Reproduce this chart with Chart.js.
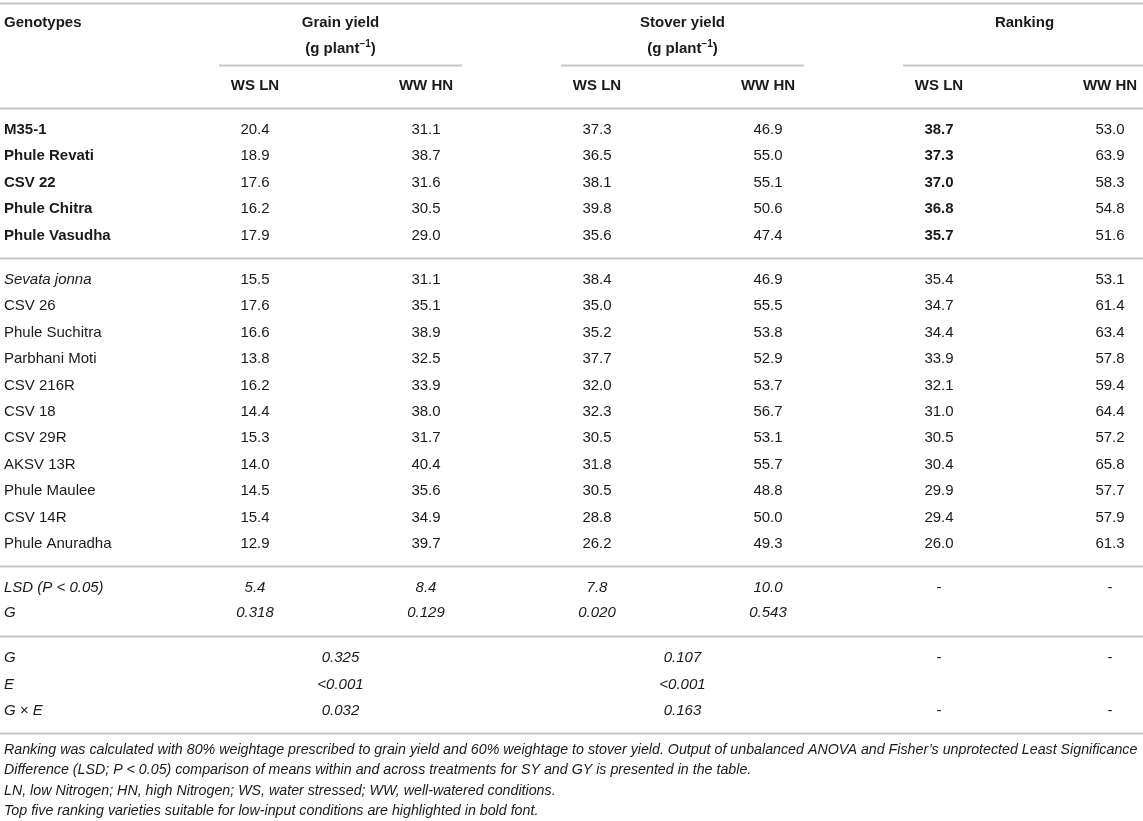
<!DOCTYPE html>
<html>
<head>
<meta charset="utf-8">
<script src="https://cdn.jsdelivr.net/npm/chart.js@4.4.1/dist/chart.umd.min.js"></script>
<style>
	html, body { margin: 0; padding: 0; background: #fff; }
	#wrap { width: 1143px; height: 821px; }
</style>
</head>
<body>
<div id="wrap"><canvas id="myChart"></canvas></div>
<script>
	const genotypes = [
		'M35-1', 'Phule Revati', 'CSV 22', 'Phule Chitra', 'Phule Vasudha',
		'Sevata jonna', 'CSV 26', 'Phule Suchitra', 'Parbhani Moti', 'CSV 216R',
		'CSV 18', 'CSV 29R', 'AKSV 13R', 'Phule Maulee', 'CSV 14R', 'Phule Anuradha'
	];
	const topFive = 5;
	const italicNames = ['Sevata jonna'];

	const grainWSLN = [20.4, 18.9, 17.6, 16.2, 17.9, 15.5, 17.6, 16.6, 13.8, 16.2, 14.4, 15.3, 14.0, 14.5, 15.4, 12.9];
	const grainWWHN = [31.1, 38.7, 31.6, 30.5, 29.0, 31.1, 35.1, 38.9, 32.5, 33.9, 38.0, 31.7, 40.4, 35.6, 34.9, 39.7];
	const stoverWSLN = [37.3, 36.5, 38.1, 39.8, 35.6, 38.4, 35.0, 35.2, 37.7, 32.0, 32.3, 30.5, 31.8, 30.5, 28.8, 26.2];
	const stoverWWHN = [46.9, 55.0, 55.1, 50.6, 47.4, 46.9, 55.5, 53.8, 52.9, 53.7, 56.7, 53.1, 55.7, 48.8, 50.0, 49.3];
	const rankWSLN = [38.7, 37.3, 37.0, 36.8, 35.7, 35.4, 34.7, 34.4, 33.9, 32.1, 31.0, 30.5, 30.4, 29.9, 29.4, 26.0];
	const rankWWHN = [53.0, 63.9, 58.3, 54.8, 51.6, 53.1, 61.4, 63.4, 57.8, 59.4, 64.4, 57.2, 65.8, 57.7, 57.9, 61.3];

	const lsdLabel = 'LSD (P < 0.05)';
	const lsdValues = ['5.4', '8.4', '7.8', '10.0', '-', '-'];
	const gLabel = 'G';
	const gValues = ['0.318', '0.129', '0.020', '0.543', '', ''];

	const anovaLabels = ['G', 'E', 'G \u00d7 E'];
	const anovaGrain = ['0.325', '<0.001', '0.032'];
	const anovaStover = ['0.107', '<0.001', '0.163'];
	const anovaRankWS = ['-', '', '-'];
	const anovaRankWW = ['-', '', '-'];

	const firstHeader = 'Genotypes';
	const groupLabels = ['Grain yield', 'Stover yield', 'Ranking'];
	const groupUnits = [true, true, false];
	const treatments = ['WS LN', 'WW HN'];

	const footnotes = [
		'Ranking was calculated with 80% weightage prescribed to grain yield and 60% weightage to stover yield. Output of unbalanced ANOVA and Fisher\u2019s unprotected Least Significance',
		'Difference (LSD; P < 0.05) comparison of means within and across treatments for SY and GY is presented in the table.',
		'LN, low Nitrogen; HN, high Nitrogen; WS, water stressed; WW, well-watered conditions.',
		'Top five ranking varieties suitable for low-input conditions are highlighted in bold font.'
	];

	const columns = [grainWSLN, grainWWHN, stoverWSLN, stoverWWHN, rankWSLN, rankWWHN];

	// layout in scale units (x: one unit per value column, y: one unit per row)
	const nameCol = -0.468;
	const sectionGap = 0.68;
	const rowY = [];
	let cursor = 4.92;
	genotypes.forEach(function(g, i){
		if(i === topFive) cursor += sectionGap;
		rowY.push(cursor);
		cursor += 1;
	});
	const lastRow = rowY[rowY.length - 1];
	const lsdY = lastRow + 1 + sectionGap;
	const gY = lsdY + 0.95;
	const anovaY = [gY + 1 + 0.7, gY + 2.7, gY + 3.7];
	const footY = anovaY[2] + 1.48;

	const FONT = '"Liberation Sans", Arial, Helvetica, sans-serif';
	function font(size, bold, italic){
		return (italic ? 'italic ' : '') + (bold ? 'bold ' : '') + size + 'px ' + FONT;
	}

	const tableText = {
		id: 'tableText',
		afterDraw: (chart) => {
			const {ctx, scales: {x, y}} = chart;
			const size = 15;

			function text(str, xv, yv, opts){
				opts = opts || {};
				ctx.font = font(opts.size || size, opts.bold, opts.italic);
				ctx.textAlign = opts.align || 'center';
				ctx.fillText(str, x.getPixelForValue(xv), y.getPixelForValue(yv));
			}
			function rule(x1, x2, yv){
				const py = Math.round(y.getPixelForValue(yv)) + 0.5;
				ctx.beginPath();
				ctx.moveTo(Math.max(x.left, x.getPixelForValue(x1)), py);
				ctx.lineTo(Math.min(x.right, x.getPixelForValue(x2)), py);
				ctx.stroke();
			}

			ctx.save();
			ctx.textBaseline = 'middle';
			ctx.fillStyle = '#1a1a1a';
			ctx.strokeStyle = '#c6c6c6';
			ctx.lineWidth = 2;

			// rules
			rule(x.min, x.max, 0.11);
			rule(x.min, x.max, 4.09);
			rule(x.min, x.max, (rowY[topFive - 1] + rowY[topFive]) / 2);
			rule(x.min, x.max, lastRow + (1 + sectionGap) / 2);
			rule(x.min, x.max, (gY + anovaY[0]) / 2);
			rule(x.min, x.max, anovaY[2] + 0.84);

			// header
			text(firstHeader, nameCol, 0.87, {bold: true, align: 'left'});
			groupLabels.forEach(function(label, g){
				const c = 1.5 + g * 2;
				text(label, c, 0.87, {bold: true});
				if(groupUnits[g]){
					ctx.font = font(size, true, false);
					const a = '(g plant', b = ')';
					const wa = ctx.measureText(a).width, wb = ctx.measureText(b).width;
					ctx.font = font(10, true, false);
					const ws = ctx.measureText('\u22121').width;
					const cx = x.getPixelForValue(c), cy = y.getPixelForValue(1.86);
					let left = cx - (wa + ws + wb) / 2;
					ctx.textAlign = 'left';
					ctx.font = font(size, true, false);
					ctx.fillText(a, left, cy);
					ctx.font = font(10, true, false);
					ctx.fillText('\u22121', left + wa, cy - 5);
					ctx.font = font(size, true, false);
					ctx.fillText(b, left + wa + ws, cy);
				}
				rule(c - 0.71, c + 0.71, 2.46);
				treatments.forEach(function(t, k){
					text(t, 1 + g * 2 + k, 3.26, {bold: true});
				});
			});

			// genotype rows
			genotypes.forEach(function(g, i){
				const yv = rowY[i];
				text(g, nameCol, yv, {align: 'left', bold: i < topFive, italic: italicNames.indexOf(g) >= 0});
				columns.forEach(function(col, c){
					text(col[i].toFixed(1), c + 1, yv, {bold: i < topFive && c === 4});
				});
			});

			// LSD and G rows
			text(lsdLabel, nameCol, lsdY, {align: 'left', italic: true});
			lsdValues.forEach(function(v, c){ text(v, c + 1, lsdY, {italic: v !== '-'}); });
			text(gLabel, nameCol, gY, {align: 'left', italic: true});
			gValues.forEach(function(v, c){ if(v) text(v, c + 1, gY, {italic: true}); });

			// ANOVA rows
			anovaLabels.forEach(function(label, r){
				const yv = anovaY[r];
				text(label, nameCol, yv, {align: 'left', italic: true});
				text(anovaGrain[r], 1.5, yv, {italic: true});
				text(anovaStover[r], 3.5, yv, {italic: true});
				if(anovaRankWS[r]) text(anovaRankWS[r], 5, yv);
				if(anovaRankWW[r]) text(anovaRankWW[r], 6, yv);
			});

			// footnotes, sized so the first line fills the width
			ctx.font = font(13, false, true);
			const fit = 13 * (x.width - 9) / ctx.measureText(footnotes[0]).width;
			footnotes.forEach(function(line, k){
				text(line, nameCol, footY + k * 0.775, {align: 'left', italic: true, size: fit.toFixed(2)});
			});
			ctx.restore();
		}
	};

	const config = {
		type: 'scatter',
		data: { datasets: [] },
		options: {
			responsive: true,
			maintainAspectRatio: false,
			animation: false,
			layout: { padding: 0 },
			plugins: {
				legend: { display: false },
				tooltip: { enabled: false }
			},
			scales: {
				x: { type: 'linear', display: false, min: -0.4912, max: 6.193 },
				y: { type: 'linear', display: false, reverse: true, min: 0, max: 31.1 }
			}
		},
		plugins: [tableText]
	};

	const myChart = new Chart(
		document.getElementById('myChart'),
		config
	);
</script>
</body>
</html>
